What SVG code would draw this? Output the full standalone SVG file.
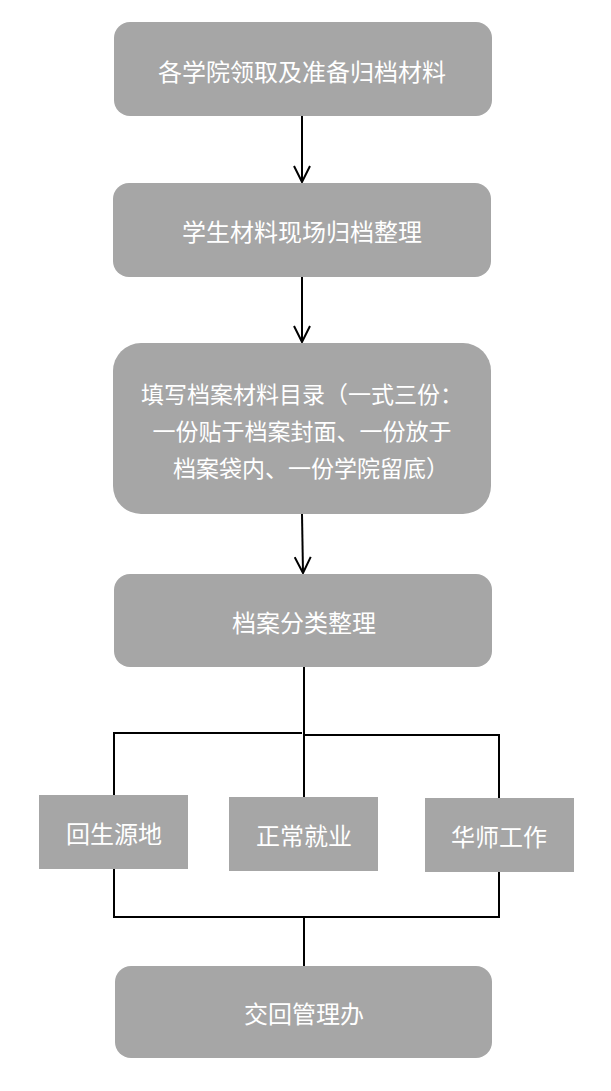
<svg xmlns="http://www.w3.org/2000/svg" width="611" height="1091" viewBox="0 0 611 1091">
<style>
.box{fill:#a6a6a6;}
.t{font-family:"Noto Sans CJK SC","Liberation Serif",serif;font-size:23px;fill:#ffffff;text-anchor:middle;dominant-baseline:central;}
.ln{stroke:#000;stroke-width:2;fill:none;}
</style>
<defs>
<marker id="ah" markerWidth="18" markerHeight="18" refX="17" refY="9" orient="auto" markerUnits="userSpaceOnUse" viewBox="0 0 18 18">
<path d="M1,1 L17,9 L1,17" fill="none" stroke="#000" stroke-width="2"/>
</marker>
</defs>
<g id="connectors">
<line class="ln" x1="302" y1="116" x2="302" y2="182" marker-end="url(#ah)"/>
<line class="ln" x1="302" y1="277" x2="302" y2="342" marker-end="url(#ah)"/>
<line class="ln" x1="302" y1="514" x2="303" y2="573" marker-end="url(#ah)"/>
<polyline class="ln" points="304,667 304,797"/>
<polyline class="ln" points="114,795 114,733 302,733"/>
<polyline class="ln" points="304,735 499,735 499,798"/>
<polyline class="ln" points="114,869 114,917 499,917 499,872"/>
<line class="ln" x1="304" y1="917" x2="304" y2="966"/>
</g>
<g id="n1"><rect class="box" x="114" y="22" width="378" height="94" rx="16"/><text class="t" x="302" y="70" style="font-size:24px">各学院领取及准备归档材料</text></g>
<g id="n2"><rect class="box" x="113" y="183" width="378" height="94" rx="16"/><text class="t" x="302" y="230" style="font-size:24px">学生材料现场归档整理</text></g>
<g id="n3"><rect class="box" x="113" y="343" width="378" height="171" rx="28"/>
<text class="t" x="302" y="393">填写档案材料目录（一式三份：</text>
<text class="t" x="302" y="430">一份贴于档案封面、一份放于</text>
<text class="t" x="311" y="467">档案袋内、一份学院留底）</text></g>
<g id="n4"><rect class="box" x="114" y="574" width="378" height="93" rx="16"/><text class="t" x="304" y="621" style="font-size:24px">档案分类整理</text></g>
<g id="n5"><rect class="box" x="39" y="795" width="149" height="74"/><text class="t" x="114" y="832" style="font-size:24px">回生源地</text></g>
<g id="n6"><rect class="box" x="229" y="797" width="149" height="74"/><text class="t" x="304" y="834" style="font-size:24px">正常就业</text></g>
<g id="n7"><rect class="box" x="425" y="798" width="149" height="74"/><text class="t" x="499" y="835" style="font-size:24px">华师工作</text></g>
<g id="n8"><rect class="box" x="115" y="966" width="377" height="92" rx="16"/><text class="t" x="304" y="1012" style="font-size:24px">交回管理办</text></g>
</svg>
